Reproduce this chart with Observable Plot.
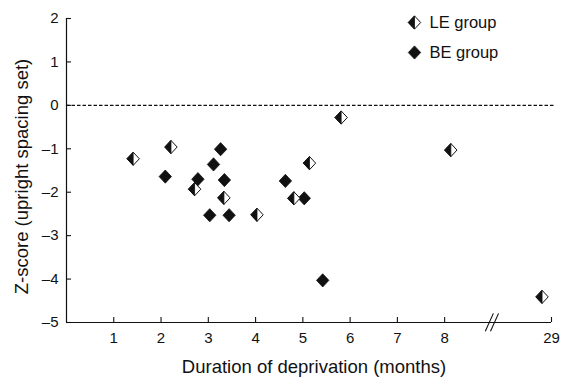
<!DOCTYPE html>
<html>
<head>
<meta charset="utf-8">
<script src="https://cdn.jsdelivr.net/npm/d3@7"></script>
<script src="https://cdn.jsdelivr.net/npm/@observablehq/plot@0.6"></script>
<style>
  html, body { margin: 0; padding: 0; background: #fff; }
</style>
</head>
<body>
<div id="chart"></div>
<script>
// ---- data ----
const leMonths = [1.41, 2.21, 2.71, 3.33, 4.03, 4.81, 5.14, 5.81, 8.13, 28.8];
const leZ      = [-1.23, -0.96, -1.93, -2.13, -2.52, -2.14, -1.33, -0.28, -1.03, -4.41];
const beMonths = [2.09, 2.78, 3.11, 3.26, 3.34, 3.03, 3.44, 4.63, 5.03, 5.42];
const beZ      = [-1.64, -1.70, -1.36, -1.01, -1.72, -2.53, -2.53, -1.74, -2.14, -4.03];
const xTicks = [1, 2, 3, 4, 5, 6, 7, 8, 29];
const yTicks = [-5, -4, -3, -2, -1, 0, 1, 2];
const groupLabels = ["LE group", "BE group"];
const xLabel = "Duration of deprivation (months)";
const yLabel = "Z-score (upright spacing set)";

// broken x axis: months up to 8.5 are linear, then jump to 29
const breakAt = 9;
const xEnd = 10.26;
const pos = m => (m <= 8.5 ? m : xEnd - (29 - m));

const le = leMonths.map((m, i) => ({x: pos(m), y: leZ[i]}));
const be = beMonths.map((m, i) => ({x: pos(m), y: beZ[i]}));
const slashes = [0, 0.11].map(o => ({x1: breakAt - 0.14 + o, x2: breakAt + 0.03 + o}));

// custom diamond symbols
const HY = 6.6, HX = 6.2;
const diamondFull = {draw(ctx, size) {
  const s = Math.sqrt(size / Math.PI) / 7;
  ctx.moveTo(0, -HY * s); ctx.lineTo(HX * s, 0); ctx.lineTo(0, HY * s); ctx.lineTo(-HX * s, 0); ctx.closePath();
}};
const diamondLeft = {draw(ctx, size) {
  const s = Math.sqrt(size / Math.PI) / 7;
  ctx.moveTo(0, -HY * s); ctx.lineTo(0, HY * s); ctx.lineTo(-HX * s, 0); ctx.closePath();
}};

const W = 561, H = 377;
const mL = 66, mR = 10, mT = 18, mB = 55;
const plotW = W - mL - mR, plotH = H - mT - mB;
const font = "'Liberation Sans', Arial, Helvetica, sans-serif";

const chart = Plot.plot({
  width: W, height: H,
  marginLeft: mL, marginRight: mR, marginTop: mT, marginBottom: mB,
  style: {fontFamily: font, fontSize: "15px", background: "#fff", color: "#111"},
  x: {domain: [0, xEnd], axis: null},
  y: {domain: [-5, 2], axis: null},
  marks: [
    // zero reference line
    Plot.ruleY([0], {stroke: "#111", strokeWidth: 1.3, strokeDasharray: "3.5,2", insetRight: -4}),
    // axis lines
    Plot.ruleX([0], {stroke: "#111", strokeWidth: 1.2}),
    Plot.ruleY([-5], {stroke: "#111", strokeWidth: 1.2}),
    // inward ticks
    Plot.tickY(yTicks, {y: d => d, stroke: "#111", strokeWidth: 1.1, insetRight: plotW - 5}),
    Plot.tickX(xTicks, {x: d => pos(d), stroke: "#111", strokeWidth: 1.1, insetTop: plotH - 5}),
    // tick labels
    Plot.axisY(yTicks, {tickSize: 0, tickPadding: 8, fontSize: 15, label: null,
      tickFormat: d => (d < 0 ? "\u2013" + Math.abs(d) : String(d))}),
    Plot.axisX(xTicks.map(pos), {tickSize: 0, tickPadding: 10, fontSize: 15, label: null,
      tickFormat: p => String(xTicks[xTicks.map(pos).indexOf(p)])}),
    // axis break
    Plot.link(slashes, {x1: "x1", x2: "x2", y1: -5.2, y2: -4.79, stroke: "#111", strokeWidth: 1.1}),
    // axis titles
    Plot.text([xLabel], {text: d => d, frameAnchor: "bottom", textAnchor: "middle", lineAnchor: "middle", dy: 45, dx: 5, fontSize: 18.5}),
    Plot.text([yLabel], {text: d => d, frameAnchor: "left", textAnchor: "middle", lineAnchor: "middle", rotate: -90, dx: -44, dy: 6, fontSize: 18.5}),
    // data points
    Plot.dot(be, {x: "x", y: "y", r: 7, symbol: diamondFull, fill: "#111", stroke: "#111", strokeWidth: 0.8}),
    Plot.dot(le, {x: "x", y: "y", r: 7, symbol: diamondFull, fill: "#fff", stroke: "#111", strokeWidth: 1}),
    Plot.dot(le, {x: "x", y: "y", r: 7, symbol: diamondLeft, fill: "#111", stroke: "#111", strokeWidth: 0.8}),
    // legend
    Plot.dot([0], {frameAnchor: "top-right", dx: -137, dy: 4, r: 7, symbol: diamondFull, fill: "#fff", stroke: "#111", strokeWidth: 1}),
    Plot.dot([0], {frameAnchor: "top-right", dx: -137, dy: 4, r: 7, symbol: diamondLeft, fill: "#111", stroke: "#111", strokeWidth: 0.8}),
    Plot.dot([0], {frameAnchor: "top-right", dx: -137, dy: 34, r: 7, symbol: diamondFull, fill: "#111", stroke: "#111", strokeWidth: 0.8}),
    Plot.text([groupLabels[0]], {text: d => d, frameAnchor: "top-right", dx: -122, dy: 4, textAnchor: "start", lineAnchor: "middle", fontSize: 16.5}),
    Plot.text([groupLabels[1]], {text: d => d, frameAnchor: "top-right", dx: -122, dy: 34, textAnchor: "start", lineAnchor: "middle", fontSize: 16.5})
  ]
});
document.getElementById("chart").appendChild(chart);
</script>
</body>
</html>
